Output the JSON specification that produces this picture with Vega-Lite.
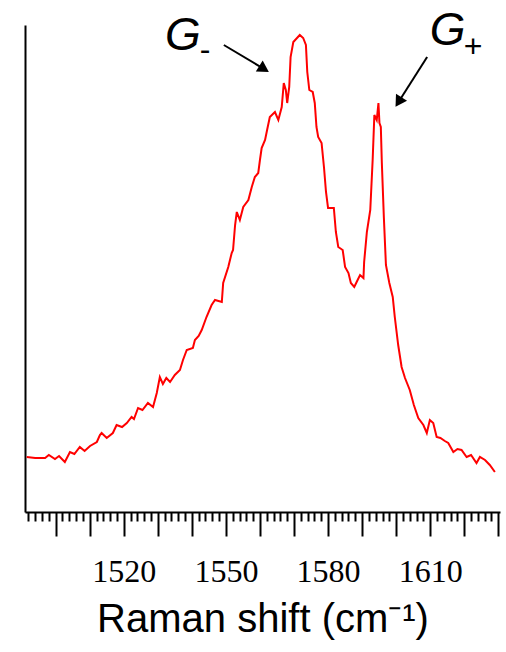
{
  "$schema": "https://vega.github.io/schema/vega-lite/v6.json",
  "width": 475,
  "height": 487,
  "autosize": "none",
  "padding": {"left": 25, "top": 25, "right": 6, "bottom": 140},
  "background": "white",
  "config": {"view": {"stroke": null}},
  "datasets": {
    "spectrum": [
      {"w": 1491.5, "I": 55}, {"w": 1494.0, "I": 54}, {"w": 1496.9, "I": 54}, {"w": 1498.0, "I": 57}, {"w": 1499.8, "I": 53},
      {"w": 1501.0, "I": 56}, {"w": 1502.7, "I": 50}, {"w": 1504.2, "I": 60}, {"w": 1505.5, "I": 58}, {"w": 1507.1, "I": 65},
      {"w": 1508.5, "I": 61}, {"w": 1510.1, "I": 66}, {"w": 1512.1, "I": 70}, {"w": 1513.0, "I": 77}, {"w": 1513.5, "I": 79},
      {"w": 1515.0, "I": 74}, {"w": 1516.8, "I": 79}, {"w": 1517.9, "I": 87}, {"w": 1519.5, "I": 85}, {"w": 1520.9, "I": 89},
      {"w": 1522.3, "I": 95}, {"w": 1523.0, "I": 93}, {"w": 1524.2, "I": 104}, {"w": 1525.5, "I": 102}, {"w": 1527.1, "I": 109},
      {"w": 1528.6, "I": 105}, {"w": 1529.7, "I": 119}, {"w": 1530.6, "I": 135}, {"w": 1531.5, "I": 128}, {"w": 1532.5, "I": 134},
      {"w": 1533.6, "I": 130}, {"w": 1535.0, "I": 137}, {"w": 1536.5, "I": 142}, {"w": 1537.4, "I": 152}, {"w": 1538.5, "I": 162},
      {"w": 1540.3, "I": 164}, {"w": 1540.9, "I": 172}, {"w": 1542.0, "I": 176}, {"w": 1542.9, "I": 182}, {"w": 1544.3, "I": 195},
      {"w": 1545.8, "I": 207}, {"w": 1546.8, "I": 212}, {"w": 1548.8, "I": 210}, {"w": 1549.2, "I": 229}, {"w": 1550.7, "I": 245},
      {"w": 1551.7, "I": 259}, {"w": 1552.1, "I": 262}, {"w": 1552.7, "I": 287}, {"w": 1553.2, "I": 300}, {"w": 1554.1, "I": 292},
      {"w": 1555.1, "I": 305}, {"w": 1556.6, "I": 312}, {"w": 1557.6, "I": 325}, {"w": 1558.5, "I": 335}, {"w": 1559.5, "I": 339},
      {"w": 1560.0, "I": 352}, {"w": 1560.5, "I": 364}, {"w": 1561.5, "I": 372}, {"w": 1562.1, "I": 382}, {"w": 1562.9, "I": 395},
      {"w": 1564.4, "I": 400}, {"w": 1565.4, "I": 392}, {"w": 1566.4, "I": 405}, {"w": 1567.0, "I": 429}, {"w": 1567.6, "I": 422},
      {"w": 1568.0, "I": 409}, {"w": 1568.6, "I": 425}, {"w": 1569.0, "I": 455}, {"w": 1569.8, "I": 470}, {"w": 1571.7, "I": 477},
      {"w": 1572.7, "I": 474}, {"w": 1573.5, "I": 467}, {"w": 1573.9, "I": 440}, {"w": 1574.5, "I": 422}, {"w": 1575.5, "I": 420},
      {"w": 1576.1, "I": 409}, {"w": 1576.6, "I": 385}, {"w": 1577.1, "I": 375}, {"w": 1578.1, "I": 369}, {"w": 1578.8, "I": 345},
      {"w": 1579.4, "I": 320}, {"w": 1580.0, "I": 304}, {"w": 1581.7, "I": 304}, {"w": 1582.3, "I": 280}, {"w": 1583.0, "I": 265},
      {"w": 1584.3, "I": 262}, {"w": 1585.0, "I": 245}, {"w": 1586.0, "I": 239}, {"w": 1586.7, "I": 229}, {"w": 1587.7, "I": 225},
      {"w": 1588.4, "I": 230}, {"w": 1589.4, "I": 237}, {"w": 1590.4, "I": 234}, {"w": 1590.6, "I": 250}, {"w": 1591.4, "I": 280},
      {"w": 1592.4, "I": 302}, {"w": 1593.1, "I": 352}, {"w": 1593.6, "I": 397}, {"w": 1594.3, "I": 392}, {"w": 1594.8, "I": 409},
      {"w": 1595.1, "I": 389}, {"w": 1595.5, "I": 385}, {"w": 1595.8, "I": 349}, {"w": 1596.4, "I": 294}, {"w": 1597.0, "I": 247},
      {"w": 1598.0, "I": 229}, {"w": 1599.0, "I": 215}, {"w": 1599.6, "I": 195}, {"w": 1600.6, "I": 167}, {"w": 1601.6, "I": 145},
      {"w": 1602.6, "I": 134}, {"w": 1604.0, "I": 122}, {"w": 1605.2, "I": 107}, {"w": 1606.5, "I": 94}, {"w": 1608.0, "I": 87},
      {"w": 1609.0, "I": 79}, {"w": 1609.9, "I": 92}, {"w": 1610.9, "I": 89}, {"w": 1611.9, "I": 75}, {"w": 1613.0, "I": 74},
      {"w": 1614.3, "I": 71}, {"w": 1615.3, "I": 69}, {"w": 1616.8, "I": 60}, {"w": 1618.0, "I": 63}, {"w": 1619.2, "I": 62},
      {"w": 1620.7, "I": 55}, {"w": 1622.0, "I": 57}, {"w": 1623.6, "I": 49}, {"w": 1624.6, "I": 55}, {"w": 1626.1, "I": 52},
      {"w": 1627.5, "I": 47}, {"w": 1629.0, "I": 40}
    ],
    "arrows": [
      {"peak": "G-", "w": 1549.4, "I": 467, "w2": 1561.2, "I2": 443},
      {"peak": "G+", "w": 1609.1, "I": 455, "w2": 1600.7, "I2": 410}
    ],
    "names": [
      {"peak": "G-", "t": "G", "w": 1532.1, "I": 462},
      {"peak": "G+", "t": "G", "w": 1609.9, "I": 467}
    ],
    "subs": [
      {"peak": "G-", "t": "-", "w": 1543.9, "I": 452},
      {"peak": "G+", "t": "+", "w": 1622.6, "I": 455}
    ]
  },
  "layer": [
    {
      "data": {"name": "spectrum"},
      "mark": {"type": "line", "color": "#ff0000", "strokeWidth": 2, "interpolate": "linear"},
      "encoding": {
        "x": {
          "field": "w", "type": "quantitative",
          "scale": {"domain": [1491, 1630.5], "nice": false, "zero": false},
          "axis": {
            "orient": "bottom",
            "values": [1492, 1494, 1496, 1498, 1500, 1502, 1504, 1506, 1508, 1510, 1512, 1514, 1516, 1518, 1520, 1522, 1524, 1526, 1528, 1530, 1532, 1534, 1536, 1538, 1540, 1542, 1544, 1546, 1548, 1550, 1552, 1554, 1556, 1558, 1560, 1562, 1564, 1566, 1568, 1570, 1572, 1574, 1576, 1578, 1580, 1582, 1584, 1586, 1588, 1590, 1592, 1594, 1596, 1598, 1600, 1602, 1604, 1606, 1608, 1610, 1612, 1614, 1616, 1618, 1620, 1622, 1624, 1626, 1628, 1630],
            "format": "d",
            "labelExpr": "(datum.value == 1520 || datum.value == 1550 || datum.value == 1580 || datum.value == 1610) ? datum.label : ''",
            "tickSize": {"condition": {"test": "datum.value % 10 === 0", "value": 24}, "value": 9},
            "tickWidth": 2, "tickColor": "black",
            "domain": true, "domainColor": "black", "domainWidth": 2,
            "grid": false,
            "labelFont": "Liberation Serif", "labelFontSize": 32, "labelColor": "black",
            "labelPadding": 20, "labelFlush": false, "labelOverlap": false,
            "title": "Raman shift (cm⁻¹)",
            "titleFont": "Liberation Sans", "titleFontSize": 40, "titleFontWeight": "normal",
            "titleColor": "black", "titlePadding": 12
          }
        },
        "y": {
          "field": "I", "type": "quantitative",
          "scale": {"domain": [0, 487], "nice": false, "zero": false},
          "axis": {"orient": "left", "ticks": false, "labels": false, "title": null, "grid": false,
                   "domain": true, "domainColor": "black", "domainWidth": 2}
        }
      }
    },
    {
      "data": {"name": "arrows"},
      "mark": {"type": "rule", "color": "black", "strokeWidth": 2},
      "encoding": {
        "x": {"field": "w", "type": "quantitative", "axis": null},
        "y": {"field": "I", "type": "quantitative", "axis": null},
        "x2": {"field": "w2"},
        "y2": {"field": "I2"}
      }
    },
    {
      "data": {"name": "arrows"},
      "transform": [{"filter": "datum.peak == 'G-'"}],
      "mark": {"type": "point", "shape": "triangle-up", "filled": true, "color": "black", "opacity": 1, "size": 170, "angle": 122},
      "encoding": {
        "x": {"field": "w2", "type": "quantitative", "axis": null},
        "y": {"field": "I2", "type": "quantitative", "axis": null}
      }
    },
    {
      "data": {"name": "arrows"},
      "transform": [{"filter": "datum.peak == 'G+'"}],
      "mark": {"type": "point", "shape": "triangle-up", "filled": true, "color": "black", "opacity": 1, "size": 170, "angle": 212},
      "encoding": {
        "x": {"field": "w2", "type": "quantitative", "axis": null},
        "y": {"field": "I2", "type": "quantitative", "axis": null}
      }
    },
    {
      "data": {"name": "names"},
      "mark": {"type": "text", "font": "Liberation Sans", "fontSize": 46, "fontStyle": "italic", "align": "left", "baseline": "alphabetic", "color": "black"},
      "encoding": {
        "x": {"field": "w", "type": "quantitative", "axis": null},
        "y": {"field": "I", "type": "quantitative", "axis": null},
        "text": {"field": "t"}
      }
    },
    {
      "data": {"name": "subs"},
      "mark": {"type": "text", "font": "Liberation Sans", "fontSize": 32, "align": "center", "baseline": "alphabetic", "color": "black"},
      "encoding": {
        "x": {"field": "w", "type": "quantitative", "axis": null},
        "y": {"field": "I", "type": "quantitative", "axis": null},
        "text": {"field": "t"}
      }
    }
  ],
  "resolve": {"axis": {"x": "independent", "y": "independent"}}
}
